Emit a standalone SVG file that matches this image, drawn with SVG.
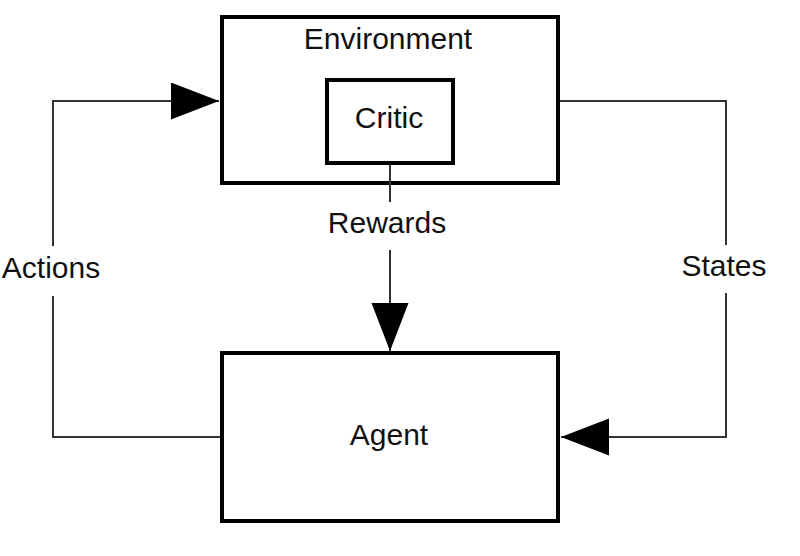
<svg xmlns="http://www.w3.org/2000/svg" width="800" height="556" viewBox="0 0 800 556">
<style>
.box{fill:#fff;stroke:#000;stroke-width:4}
.lbl{font-family:"Liberation Sans",Arial,sans-serif;font-size:30px;fill:#111;text-anchor:middle}
.conn{fill:none;stroke:#333;stroke-width:2}
</style>
<defs>
<marker id="arr" markerUnits="userSpaceOnUse" markerWidth="50" markerHeight="38" refX="48" refY="18.5" orient="auto">
<path d="M0,0 L48,18.5 L0,37 Z" fill="#000"/>
</marker>
</defs>
<rect width="800" height="556" fill="#fff"/>
<g id="environment">
<rect class="box" x="222" y="17" width="336" height="166"/>
<text class="lbl" x="388" y="49">Environment</text>
</g>
<g id="critic">
<rect class="box" x="327" y="80" width="126" height="83"/>
<text class="lbl" x="389" y="128">Critic</text>
</g>
<g id="agent">
<rect class="box" x="222" y="353" width="336" height="168"/>
<text class="lbl" x="389" y="445">Agent</text>
</g>
<g id="connectors">
<path class="conn" d="M390,165 V202"/>
<path class="conn" d="M390,250 V351" marker-end="url(#arr)"/>
<text class="lbl" x="387" y="233">Rewards</text>
<path class="conn" d="M220,437 H53 V296"/>
<path class="conn" d="M53,246 V101 H219" marker-end="url(#arr)"/>
<text class="lbl" x="51" y="278">Actions</text>
<path class="conn" d="M560,101 H726 V245"/>
<path class="conn" d="M726,293 V437 H561" marker-end="url(#arr)"/>
<text class="lbl" x="724" y="276">States</text>
</g>
</svg>
